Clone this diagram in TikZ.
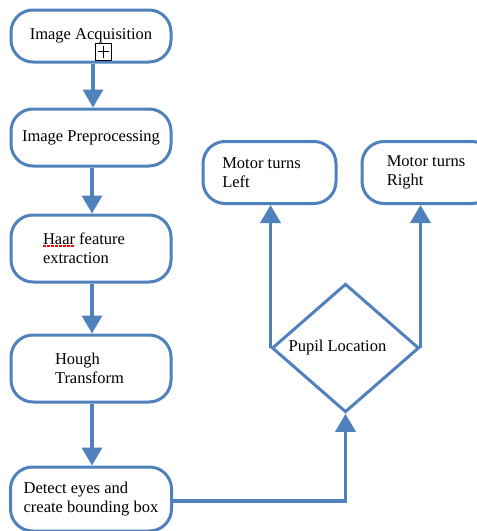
\documentclass[tikz,border=0pt]{standalone}
\usepackage{fontspec}
\setmainfont{Liberation Serif}
\usetikzlibrary{shapes.geometric,arrows.meta}
\definecolor{flowblue}{HTML}{4F81BD}
\tikzset{
  box/.style={draw=flowblue, line width=3pt, rounded corners=22pt, fill=white,
    align=left, inner sep=0pt, font=\fontsize{16.5}{19}\selectfont},
  decision/.style={draw=flowblue, line width=3pt, shape=diamond, inner sep=0pt,
    minimum width=147pt, minimum height=120pt, font=\fontsize{16.5}{19}\selectfont},
  flow/.style={draw=flowblue, line width=3.5pt, -{Triangle[width=20pt,length=18pt]}},
}
\begin{document}
\begin{tikzpicture}[x=1pt,y=-1pt]
\useasboundingbox (0,0) rectangle (477,531);
\clip (0,0) rectangle (477,531);
\node[box, minimum width=160pt, minimum height=52pt] (acq) at (91,36) {Image Acquisition};
\node[box, minimum width=160pt, minimum height=57pt] (pre) at (91,137.5) {Image Preprocessing};
\node[box, minimum width=160pt, minimum height=67pt] (haar) at (91,248.5) {Haar feature\hspace*{14pt}\\extraction};
\node[box, minimum width=160pt, minimum height=67pt, text width=72pt, inner xsep=44pt] (hough) at (91,368.5) {Hough\\Transform};
\node[box, minimum width=161pt, minimum height=64pt] (det) at (91,499) {Detect eyes and\\create bounding box};
\node[box, minimum width=133pt, minimum height=62pt] (ml) at (269.5,172.5) {Motor turns\hspace*{16pt}\\Left};
\node[box, minimum width=132pt, minimum height=62pt] (mr) at (428,172.5) {Motor turns\hspace*{4pt}\\Right};
\node[decision] (pupil) at (345.5,348) {Pupil Location\hspace*{16pt}};
% boxed plus marker
\node[draw=black, line width=1pt, fill=white, minimum width=16pt, minimum height=17pt, inner sep=0pt] (mark) at (103,51.5) {};
\draw[line width=1pt] ([xshift=3pt]mark.west) -- ([xshift=-3pt]mark.east);
\draw[line width=1pt] ([yshift=-3pt]mark.north) -- ([yshift=3pt]mark.south);
% spell-check underline
\draw[red, line width=1.8pt, dash pattern=on 2.5pt off 1.5pt] (43,246) -- (74,246);
% connectors
\draw[flow] (acq.south -| 93,0) -- (pre.north -| 93,0);
\draw[flow] (pre.south -| 92,0) -- (haar.north -| 92,0);
\draw[flow] (haar.south -| 92,0) -- (hough.north -| 92,0);
\draw[flow] (hough.south -| 92,0) -- (det.north -| 92,0);
\draw[flow] (det.east |- 0,501) -| (pupil.south);
\draw[flow] (pupil.west) -- (pupil.west |- ml.south);
\draw[flow] (pupil.east) -- (pupil.east |- mr.south);
\end{tikzpicture}
\end{document}
